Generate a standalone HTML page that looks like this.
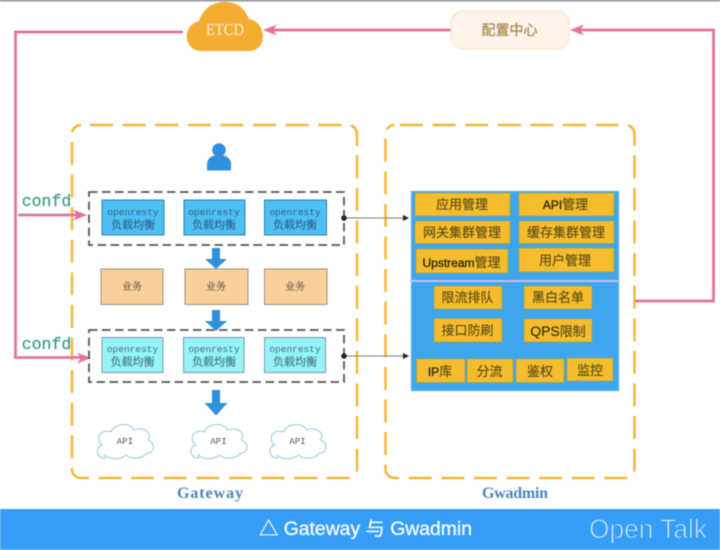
<!DOCTYPE html>
<html><head><meta charset="utf-8"><style>
html,body{margin:0;padding:0;background:#fff;width:720px;height:550px;overflow:hidden}
svg{display:block;filter:blur(0.45px)}
.m{font-family:"Liberation Mono","Noto Sans CJK SC",monospace}
.s{font-family:"Noto Serif CJK SC","Liberation Serif",serif;stroke:currentColor;stroke-width:.2}
.h{font-family:"Liberation Sans","Noto Sans CJK SC",sans-serif}
text{text-anchor:middle}
</style></head><body>
<svg width="720" height="550" viewBox="0 0 720 550" xmlns="http://www.w3.org/2000/svg">
<defs>
<path id="c" d="M-20 17C-29 17-30 6-23 4C-31-3-23-13-14-9C-11-18 6-19 9-11C18-15 28-8 23-1C31 2 30 12 22 12C17 19 5 18 1 14C-5 19-15 19-20 14Z" fill="#fff" stroke="#a5cfe2" stroke-width="1.2"/>
</defs>
<rect width="720" height="1.4" fill="#808080"/>

<!-- dashed containers -->
<rect x="72" y="125" width="285" height="353" rx="9" fill="none" stroke="#f3b636" stroke-width="2.4" stroke-dasharray="23 9.6" stroke-dashoffset="-9"/>
<rect x="385.500" y="125" width="249" height="353" rx="9" fill="none" stroke="#f3b636" stroke-width="2.4" stroke-dasharray="23 9.6" stroke-dashoffset="-5.5"/>

<!-- pink connectors -->
<g fill="none" stroke="#e4709c" stroke-width="2.7">
<path d="M183 32H15.500V357.500H84"/>
<path d="M18 215H80"/>
<path d="M635 301H713.500V30H576"/>
<path d="M451 30H270"/>
</g>
<g fill="#e4709c">
<path d="M87 215L73 209.500L77 215L73 220.500Z"/>
<path d="M91 358L77 352.500L81 358L77 363.500Z"/>
<path d="M570 30L584 24.500L580 30L584 35.500Z"/>
<path d="M263 30L277 24.500L273 30L277 35.500Z"/>
</g>

<!-- ETCD cloud -->
<path d="M201 51C184 51 181 26 199 21C203 9 212 2 225 2C238 2 245 9 249 19C267 22 268 51 249 51Z" fill="#f3ad31"/>
<text x="225" y="35" font-family="Liberation Serif,serif" font-size="17" fill="#fdf1d8" textLength="38" lengthAdjust="spacingAndGlyphs">ETCD</text>

<!-- config center -->
<rect x="451" y="11" width="118" height="38" rx="12" fill="#fdf3e8" stroke="#fbe4c8" stroke-width="1.2"/>
<text x="509.500" y="35" class="h" font-size="14" fill="#a9854f" stroke="#a9854f" stroke-width=".2">配置中心</text>

<!-- user icon -->
<circle cx="219" cy="150" r="6.800" fill="#3291dd"/>
<path d="M208 169.500V164C208 159 212 156 219 156C226 156 230 159 230 164V169.500Z" fill="#3291dd" stroke="#3291dd" stroke-width="2" stroke-linejoin="round"/>

<!-- blue down arrows -->
<g fill="#2f90dc">
<path d="M212 248H220V259H227L216 269L205 259H212Z"/>
<path d="M212 310H220V321H227L216 331L205 321H212Z"/>
<path d="M212 390H220V403H227.500L216 415.500L204.500 403H212Z"/>
</g>

<!-- group 1 -->
<rect x="89" y="192" width="255" height="53" fill="none" stroke="#555" stroke-width="1.8" stroke-dasharray="8.500 4.500"/>
<g fill="#4dbff5" stroke="#337ea5" stroke-width="1">
<rect x="102" y="200" width="62" height="35"/><rect x="184" y="200" width="61" height="35"/><rect x="264.500" y="200" width="62" height="35"/>
</g>
<g fill="#305f80" color="#305f80">
<g font-size="9.500" class="m"><text x="133" y="215">openresty</text><text x="214" y="215">openresty</text><text x="295" y="215">openresty</text></g>
<g font-size="11" class="s"><text x="133" y="228.500">负载均衡</text><text x="214" y="228.500">负载均衡</text><text x="295" y="228.500">负载均衡</text></g>
</g>

<!-- business -->
<g fill="#fad09a" stroke="#9a9080" stroke-width="1">
<rect x="101" y="269" width="62" height="35.500"/><rect x="185" y="269" width="63" height="35.500"/><rect x="264.500" y="269" width="62.500" height="35.500"/>
</g>
<g fill="#6f6553" color="#6f6553" font-size="10" class="s">
<text x="132" y="290">业务</text><text x="216" y="290">业务</text><text x="295" y="290">业务</text>
</g>

<!-- group 2 -->
<rect x="89" y="330" width="255" height="52" fill="none" stroke="#555" stroke-width="1.8" stroke-dasharray="8.500 4.500"/>
<g fill="#96f3f8" stroke="#7b9ca3" stroke-width="1">
<rect x="102" y="337.500" width="61" height="35"/><rect x="183.500" y="337.500" width="60.500" height="35"/><rect x="264.500" y="337.500" width="61" height="35"/>
</g>
<g fill="#3f7080" color="#3f7080">
<g font-size="9.500" class="m"><text x="132.500" y="352">openresty</text><text x="214" y="352">openresty</text><text x="295" y="352">openresty</text></g>
<g font-size="11" class="s"><text x="132.500" y="365.500">负载均衡</text><text x="214" y="365.500">负载均衡</text><text x="295" y="365.500">负载均衡</text></g>
</g>

<!-- API clouds -->
<use href="#c" x="125" y="441"/><use href="#c" x="218.500" y="441"/><use href="#c" x="297.500" y="441"/>
<g class="m" font-size="9" fill="#555">
<text x="125" y="444">API</text><text x="218.500" y="444">API</text><text x="297.500" y="444">API</text>
</g>

<!-- confd -->
<g class="m" font-size="16.500" fill="#3a9c85" stroke="#3a9c85" stroke-width=".25">
<text x="46.500" y="206">confd</text><text x="46.500" y="349">confd</text>
</g>

<!-- links to Gwadmin -->
<g fill="none" stroke="#777" stroke-width="0.9"><path d="M344 218H406"/><path d="M344 356H406"/></g>
<g fill="#222">
<circle cx="344" cy="218" r="2.800"/><circle cx="344" cy="356" r="2.800"/>
<path d="M409 218L403 215V221Z"/><path d="M409 356L403 353V359Z"/>
</g>

<!-- Gwadmin panel -->
<rect x="411" y="191" width="208" height="200" fill="#3ea6ee" stroke="#a9d2ee" stroke-width="0.8"/>
<rect x="410" y="280" width="210" height="2" fill="#c7bdec"/>
<g fill="#f5bd2d" stroke="#9ea24e" stroke-width="0.8">
<rect x="415" y="193" width="95" height="23"/><rect x="519" y="193" width="95" height="23"/>
<rect x="415" y="221" width="95" height="22.500"/><rect x="519" y="221" width="95" height="22.500"/>
<rect x="416" y="249" width="92" height="24"/><rect x="519" y="248" width="95" height="24"/>
<rect x="434" y="286" width="68" height="23"/><rect x="524" y="286" width="68" height="23"/>
<rect x="434" y="318.500" width="68" height="23.500"/><rect x="524" y="319" width="68" height="23"/>
<rect x="416.500" y="359" width="48.500" height="23.500"/><rect x="467" y="359" width="46" height="23.500"/><rect x="516" y="359" width="48" height="23.500"/><rect x="567" y="358" width="46" height="23"/>
</g>
<g class="h" font-size="13" fill="#5c4d17" stroke="#5c4d17" stroke-width=".15">
<text x="462" y="209">应用管理</text>
<text x="565.500" y="209" font-size="12"><tspan fill="#2e2810" stroke="#2e2810" stroke-width=".35">API</tspan><tspan font-size="13">管理</tspan></text>
<text x="462" y="237">网关集群管理</text>
<text x="566" y="237">缓存集群管理</text>
<text x="461.500" y="267" font-size="12"><tspan fill="#2e2810" stroke="#2e2810" stroke-width=".35">Upstream</tspan><tspan font-size="13">管理</tspan></text>
<text x="565" y="265">用户管理</text>
<text x="467.500" y="302">限流排队</text>
<text x="558" y="302">黑白名单</text>
<text x="467.500" y="335">接口防刷</text>
<text x="558" y="336" font-size="14"><tspan fill="#2e2810">QPS</tspan><tspan font-size="13">限制</tspan></text>
<text x="440" y="376" font-size="12"><tspan fill="#2e2810" stroke="#2e2810" stroke-width=".35">IP</tspan><tspan font-size="13">库</tspan></text>
<text x="489.500" y="376">分流</text>
<text x="540" y="376">鉴权</text>
<text x="590" y="375">监控</text>
</g>

<!-- labels -->
<text x="210" y="498" font-family="Liberation Serif,serif" font-size="16" font-weight="bold" fill="#4a85bd" textLength="66" lengthAdjust="spacing">Gateway</text>
<text x="515" y="498" font-family="Liberation Serif,serif" font-size="16" font-weight="bold" fill="#4a85bd" textLength="66" lengthAdjust="spacing">Gwadmin</text>

<!-- footer -->
<rect x="0" y="509" width="720" height="41" fill="#379ef8"/>
<text x="365.500" y="535" class="h" font-size="19" fill="#f4f9ff" stroke="#f4f9ff" stroke-width=".35" textLength="213" lengthAdjust="spacingAndGlyphs">△ Gateway 与 Gwadmin</text>
<text x="648" y="538" class="h" font-size="27" fill="#e8f4ff" stroke="#379ef8" stroke-width="1.100" textLength="118" lengthAdjust="spacingAndGlyphs">Open Talk</text>
</svg>
</body></html>
